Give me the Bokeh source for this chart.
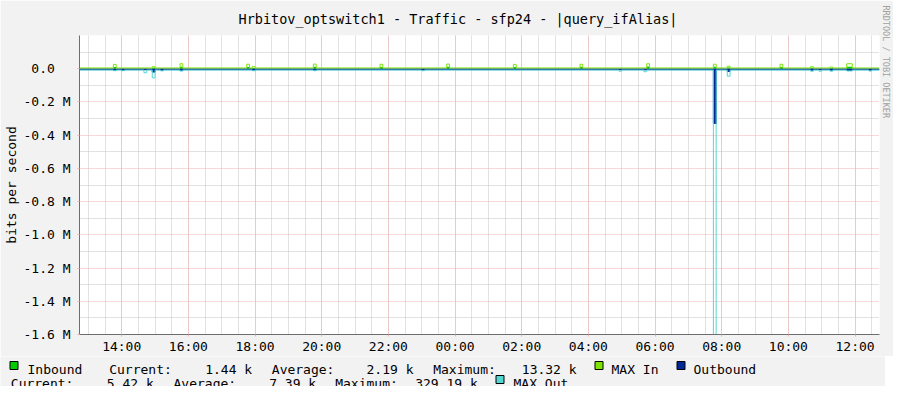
import pandas as pd
from bokeh.plotting import figure
from bokeh.models import (Range1d, FixedTicker, CustomJSTickFormatter, ColumnDataSource, Title)
from bokeh.layouts import column
from bokeh.core.properties import value
from bokeh.embed import file_html
from bokeh.resources import INLINE

# ---------------- data ----------------
TITLE = "Hrbitov_optswitch1 - Traffic - sfp24 - |query_ifAlias|"
Y_LABEL = "bits per second"
CREDIT = "RRDTOOL / TOBI OETIKER"

WINDOW_START = "2024-05-13 12:44"
WINDOW_END = "2024-05-14 12:44"

x_tick_labels = ["14:00", "16:00", "18:00", "20:00", "22:00", "00:00",
                 "02:00", "04:00", "06:00", "08:00", "10:00", "12:00"]
y_ticks = [0.0, -200000.0, -400000.0, -600000.0, -800000.0,
           -1000000.0, -1200000.0, -1400000.0, -1600000.0]
y_tick_labels = ["0.0\u00a0\u00a0", "-0.2 M", "-0.4 M", "-0.6 M", "-0.8 M",
                 "-1.0 M", "-1.2 M", "-1.4 M", "-1.6 M"]
y_minor_ticks = [100000.0, -100000.0, -300000.0, -500000.0, -700000.0,
                 -900000.0, -1100000.0, -1300000.0, -1500000.0]
Y_TOP = 200000.0
Y_BOTTOM = -1600000.0

# Inbound (average) and MAX In share the same sample times (step changes)
in_times = ["12:44", "13:45", "13:50", "14:55", "15:00", "15:45", "15:50", "17:45", "17:50",
            "17:55", "18:00", "19:45", "19:50", "21:45", "21:50", "23:45", "23:50", "01:45",
            "01:50", "03:45", "03:50", "05:45", "05:50", "07:45", "07:50", "08:10", "08:15",
            "09:45", "09:50", "10:40", "10:45", "11:15", "11:20", "11:45", "11:55", "12:44"]
in_values = [1500, 11000, 1500, 6000, 1400, 12000, 1500, 11000, 1500,
             5000, 1500, 12000, 1500, 11000, 1500, 12000, 1400, 11000,
             1500, 12000, 1400, 13320, 1500, 12000, 1500, 8000, 1500,
             11000, 1500, 6000, 1500, 4000, 1500, 12000, 1440, 1440]
maxin_values = [4500, 26000, 4500, 12000, 4500, 30000, 4500, 27000, 4500,
                12000, 4500, 28000, 4500, 27000, 4500, 28000, 4500, 26000,
                4500, 27000, 4500, 30000, 4500, 27000, 4500, 15000, 4500,
                27000, 4500, 12000, 4500, 10000, 4500, 30000, 4500, 4500]

# Outbound (average) and MAX Out, drawn negative
out_times = ["12:44", "13:45", "13:50", "14:00", "14:05", "14:40", "14:45", "14:55", "15:00",
             "15:10", "15:15", "15:45", "15:50", "17:55", "18:00", "19:45", "19:50", "23:00",
             "23:05", "04:55", "05:00", "05:40", "05:45", "07:45", "07:50", "08:10", "08:15",
             "10:40", "10:45", "10:55", "11:00", "11:15", "11:20", "11:45", "11:55", "12:25",
             "12:30", "12:44"]
out_values = [-5400, -9000, -5400, -9000, -5400, -6000, -5400, -20000, -5400,
              -9000, -5400, -10000, -5400, -9000, -5400, -9000, -5400, -8000,
              -5400, -6000, -5400, -6500, -5400, -329190, -5400, -16000, -5400,
              -9000, -5400, -6000, -5400, -9000, -5400, -11000, -5400, -9000,
              -5420, -5420]
maxout_values = [-8000, -12000, -8000, -12000, -8000, -24000, -8000, -55000, -8000,
                 -13000, -8000, -14000, -8000, -12000, -8000, -12000, -8000, -12000,
                 -8000, -15000, -8000, -18000, -8000, -1700000, -8000, -45000, -8000,
                 -15000, -8000, -15000, -8000, -15000, -8000, -13000, -8000, -14000,
                 -8000, -8000]

legend_names = ["Inbound", "MAX In", "Outbound", "MAX Out"]
stat_names = ["Current:", "Average:", "Maximum:"]
in_stats = ["1.44 k", "2.19 k", "13.32 k"]
out_stats = ["5.42 k", "7.39 k", "329.19 k"]

# ---------------- styles ----------------
IN_COLOR = "#00CC00"
MAXIN_COLOR = "#7CE600"
OUT_COLOR = "#002A97"
MAXOUT_COLOR = "#55D6D3"
BACK = "#F2F2F2"
GRID = "#C4C4C4"
MGRID = "#F0B0B0"
AXIS = "#6E6E6E"
FONT = "DejaVu Sans Mono"

start_ts = pd.Timestamp(WINDOW_START)
end_ts = pd.Timestamp(WINDOW_END)
day0 = start_ts.normalize()


def to_ms(times):
    out, day, prev = [], 0, None
    for t in times:
        h, m = map(int, t.split(":"))
        mins = h * 60 + m
        if prev is not None and mins < prev:
            day += 1
        prev = mins
        ts = day0 + pd.Timedelta(days=day, minutes=mins)
        out.append(ts.value / 1e6)
    return out


xs = start_ts.value / 1e6
xe = end_ts.value / 1e6
x_ticks = to_ms(x_tick_labels)
x_minor = [t.value / 1e6 for t in pd.date_range("2024-05-13 13:00", "2024-05-14 12:30", freq="30min")]

# layout (canvas pixels)
FRAME_L, FRAME_T, FRAME_W, FRAME_H = 73, 27, 800, 299
CANVAS_W = 885
MAIN_H = 348
LEG_H = 30

p = figure(frame_width=FRAME_W, frame_height=FRAME_H, x_axis_type="datetime",
           x_range=Range1d(xs, xe), y_range=Range1d(Y_BOTTOM, Y_TOP),
           min_border_left=FRAME_L, min_border_right=CANVAS_W - FRAME_L - FRAME_W,
           min_border_top=FRAME_T, min_border_bottom=MAIN_H - FRAME_T - FRAME_H,
           toolbar_location=None, output_backend="svg", frame_align=False,
           background_fill_color="#FFFFFF", border_fill_color=BACK, outline_line_color=None)

p.title = Title(text=TITLE, align="left", offset=159, text_font=FONT, text_font_size="13.5px",
                text_font_style="normal", text_color="#000000", standoff=17)

# credit text along the right edge
p.add_layout(Title(text=CREDIT, align="left", offset=-30, text_font=FONT,
                   text_font_size="8.5px", text_font_style="normal", text_color="#A0A0A0",
                   standoff=2), "right")

# axes
p.xaxis.ticker = FixedTicker(ticks=x_ticks, minor_ticks=x_minor)
p.xaxis.formatter = CustomJSTickFormatter(args=dict(vals=x_ticks, labs=x_tick_labels),
                                          code="const i = vals.indexOf(tick); return i < 0 ? '' : labs[i];")
p.yaxis.ticker = FixedTicker(ticks=y_ticks, minor_ticks=y_minor_ticks)
p.yaxis.formatter = CustomJSTickFormatter(args=dict(vals=y_ticks, labs=y_tick_labels),
                                          code="const i = vals.indexOf(tick); return i < 0 ? '' : labs[i];")
for ax in (p.xaxis[0], p.yaxis[0]):
    ax.axis_line_color = AXIS
    ax.major_tick_line_color = MGRID
    ax.major_tick_out = 2
    ax.major_tick_in = 0
    ax.minor_tick_out = 0
    ax.minor_tick_in = 0
    ax.major_label_text_font = FONT
    ax.major_label_text_font_size = "13px"
    ax.major_label_text_color = "#000000"
p.xaxis.major_label_standoff = 2
p.yaxis.major_label_standoff = 7
p.yaxis.axis_label = Y_LABEL
p.yaxis.axis_label_text_font = FONT
p.yaxis.axis_label_text_font_size = "13px"
p.yaxis.axis_label_text_font_style = "normal"
p.yaxis.axis_label_text_color = "#000000"
p.yaxis.axis_label_standoff = 2

for g in (p.xgrid[0], p.ygrid[0]):
    g.grid_line_color = MGRID
    g.grid_line_dash = "1 1"
    g.minor_grid_line_color = GRID
    g.minor_grid_line_dash = "1 1"

# data glyphs
src_in = ColumnDataSource(dict(t=to_ms(in_times), v=in_values, m=maxin_values))
src_out = ColumnDataSource(dict(t=to_ms(out_times), v=out_values, m=maxout_values))

p.varea_step(x="t", y1=0, y2="v", step_mode="after", fill_color=IN_COLOR, source=src_in)
p.step(x="t", y="m", mode="after", line_color=MAXIN_COLOR, line_width=1, source=src_in)
p.varea_step(x="t", y1=0, y2="v", step_mode="after", fill_color=OUT_COLOR, source=src_out)
p.step(x="t", y="v", mode="after", line_color=OUT_COLOR, line_width=1, source=src_out)
p.step(x="t", y="m", mode="after", line_color=MAXOUT_COLOR, line_width=1, source=src_out)

# ---------------- legend strip (pixel coordinates) ----------------
lg = figure(width=CANVAS_W, height=LEG_H, x_range=Range1d(0, CANVAS_W), y_range=Range1d(LEG_H, 0),
            x_axis_type=None, y_axis_type=None, min_border=0, toolbar_location=None,
            output_backend="svg", frame_align=False, background_fill_color=BACK,
            border_fill_color=BACK, outline_line_color=None)
lg.grid.visible = False

legend_colors = [IN_COLOR, MAXIN_COLOR, OUT_COLOR, MAXOUT_COLOR]
box_x = [13.5, 598.5, 680.5, 499.5]
box_y = [9.0, 9.0, 9.0, 23.0]
lg.rect(x=box_x, y=box_y, width=8, height=8, fill_color=legend_colors, line_color="#000000",
        line_width=1)

texts = [legend_names[0], stat_names[0], in_stats[0], stat_names[1], in_stats[1],
         stat_names[2], in_stats[2], legend_names[1], legend_names[2],
         stat_names[0], out_stats[0], stat_names[1], out_stats[1], stat_names[2], out_stats[2],
         legend_names[3]]
tx = [27, 108.7, 204.7, 271.3, 366, 432.7, 521.3, 611, 693,
      10.3, 106.3, 173, 268.7, 334.7, 414.7, 513]
ty = [13.0] * 9 + [27.0] * 7
lg.text(x=tx, y=ty, text=texts, text_font=value(FONT), text_font_size="13px",
        text_color="#000000", text_baseline="alphabetic", text_align="left")

layout = column(p, lg, spacing=0)
open("out.html", "w").write(file_html(layout, INLINE))
